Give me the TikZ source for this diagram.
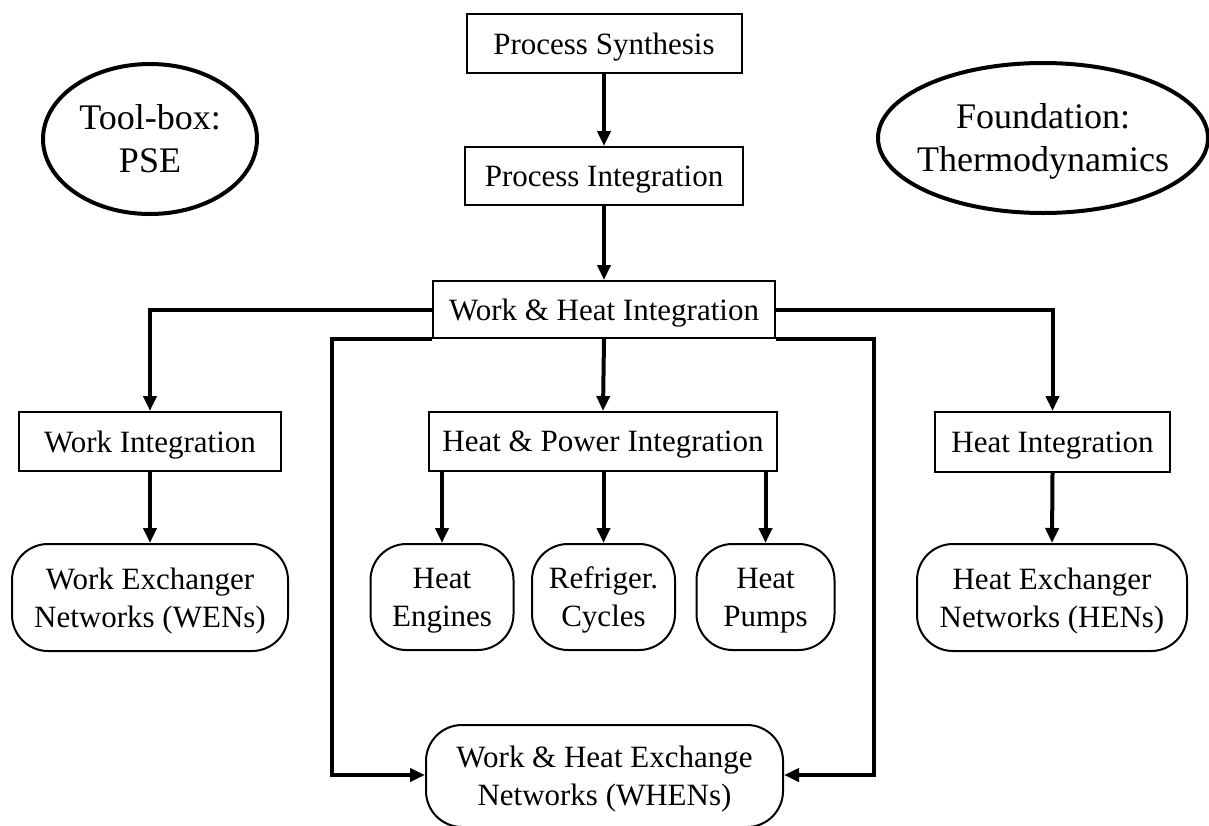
\documentclass[tikz,border=0pt]{standalone}
\usepackage{fontspec}
\setmainfont{Liberation Serif}
\usetikzlibrary{arrows.meta,shapes.geometric}
\tikzset{
  box/.style={draw, line width=2pt, inner sep=0pt, align=center, fill=white, text depth=0pt},
  rbox/.style={draw, line width=2pt, inner sep=0pt, align=center, rounded corners=36pt, fill=white, text depth=0pt},
  oval/.style={draw, ellipse, line width=4pt, inner ysep=0pt, inner xsep=-15pt, align=center, text depth=0pt,
    font=\fontsize{36}{43}\selectfont},
  arr/.style={line width=4pt, -{Triangle[length=15pt,width=13pt]}}
}
\begin{document}
\begin{tikzpicture}[x=1pt,y=-1pt,font=\fontsize{31}{38}\selectfont]
\clip (0,0) rectangle (1209,825);
\fill[white] (0,0) rectangle (1209,825);
% ellipses
\node[oval, minimum width=214pt, minimum height=150pt] (tb) at (150,139) {Tool-box:\\PSE};
\node[oval, minimum width=330pt, minimum height=150pt] (fd) at (1043,138) {Foundation:\\Thermodynamics};
% boxes
\node[box, minimum width=275pt, minimum height=59pt] (ps) at (604,43.5) {Process Synthesis};
\node[box, minimum width=278pt, minimum height=58pt] (pi) at (604,176) {Process Integration};
\node[box, minimum width=342pt, minimum height=57pt] (whi) at (604,309.5) {Work \& Heat Integration};
\node[box, minimum width=262pt, minimum height=59pt] (wi) at (150,441.5) {Work Integration};
\node[box, minimum width=348pt, minimum height=59pt] (hpi) at (603,441.5) {Heat \& Power Integration};
\node[box, minimum width=235pt, minimum height=60pt] (hi) at (1052.5,442) {Heat Integration};
\node[rbox, minimum width=276pt, minimum height=107pt] (wen) at (150,597.5) {Work Exchanger\\Networks (WENs)};
\node[rbox, minimum width=270pt, minimum height=107pt] (hen) at (1052,597.5) {Heat Exchanger\\Networks (HENs)};
\node[rbox, minimum width=143pt, minimum height=106pt] (he) at (442,597) {Heat\\Engines};
\node[rbox, minimum width=143pt, minimum height=106pt] (rc) at (603.5,597) {Refriger.\\Cycles};
\node[rbox, minimum width=138pt, minimum height=106pt] (hp) at (765.5,597) {Heat\\Pumps};
\node[rbox, minimum width=357pt, minimum height=102pt] (whens) at (604.5,776) {Work \& Heat Exchange\\Networks (WHENs)};
% connectors
\coordinate (lc) at (332,775);
\coordinate (rcor) at (874,775);
\draw[arr] (ps.south) -- (pi.north);
\draw[arr] (pi.south) -- (whi.north);
\draw[arr] (whi.west) -| (wi.north);
\draw[arr] (whi.east) -| (hi.north);
\draw[arr] (whi.south) -- (hpi.north);
\draw[arr] (wi.south) -- (wen.north);
\draw[arr] (hi.south) -- (hen.north);
\draw[arr] (he.north |- hpi.south) -- (he.north);
\draw[arr] (rc.north |- hpi.south) -- (rc.north);
\draw[arr] (hp.north |- hpi.south) -- (hp.north);
\draw[arr] (whi.south west) -| (lc) -- (whens.west |- lc);
\draw[arr] (whi.south east) -| (rcor) -- (whens.east |- rcor);
\end{tikzpicture}
\end{document}
